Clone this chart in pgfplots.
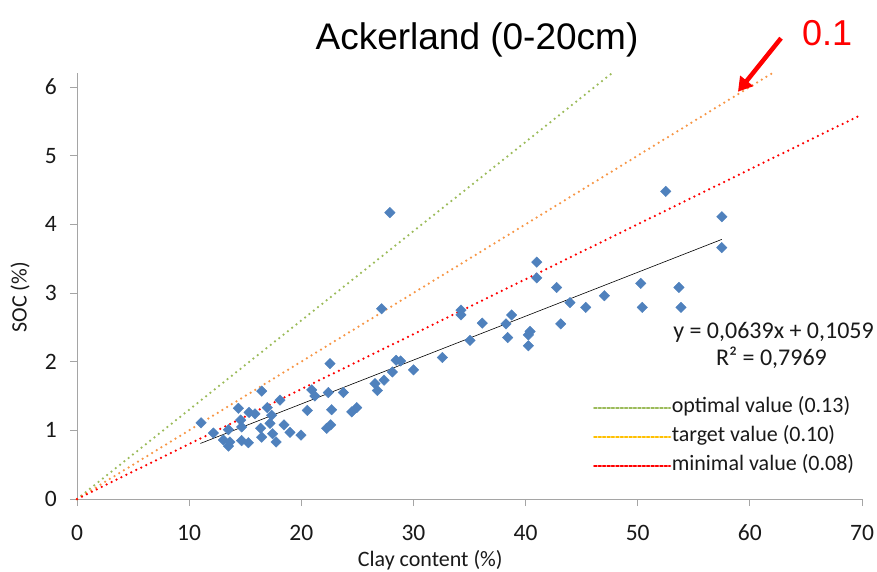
\documentclass[border=0pt]{standalone}
\usepackage{pgfplots}
\pgfplotsset{compat=1.18}
\usepackage{fontspec}
\setmainfont{Carlito}
\newfontfamily\arial{Liberation Sans}
\usetikzlibrary{arrows.meta}
\definecolor{ptblue}{RGB}{79,129,189}
\definecolor{optgreen}{RGB}{155,187,89}
\definecolor{tgtorange}{RGB}{247,150,70}
\definecolor{legorange}{RGB}{255,192,0}
\definecolor{axgray}{RGB}{165,165,165}
\definecolor{txt}{RGB}{25,25,25}
\tikzset{dotline/.style={line width=2.5pt, line cap=round, dash pattern=on 0pt off 5.5pt},
  legdot/.style={line width=2.2pt, dash pattern=on 2.4pt off 2pt}}

\begin{document}
\begin{tikzpicture}[x=1pt,y=1pt]
\begin{axis}[
  at={(0,0)}, anchor=south west,
  scale only axis, width=785pt, height=425.8pt,
  xmin=0, xmax=70, ymin=0, ymax=6.2,
  xtick={0,10,...,70}, ytick={0,1,...,6},
  axis lines=left, axis line style={draw=axgray, line width=0.8pt, -},
  tick style={draw=axgray, line width=0.8pt},
  tick align=outside, major tick length=7pt,
  /pgf/number format/assume math mode=true,
  ticklabel style={font=\fontsize{23.5}{26}\selectfont, text=txt, inner sep=0pt},
  xticklabel style={anchor=center, text height=15pt, text depth=0pt, yshift=-27pt},
  yticklabel style={anchor=east, xshift=-13pt},
  xlabel={Clay content (\%)},
  ylabel={SOC (\%)},
  label style={font=\fontsize{22}{24}\selectfont, text=txt},
  xlabel style={at={(axis description cs:0.45,0)}, anchor=center, yshift=-61pt},
  ylabel style={at={(axis description cs:-0.0726,0.474)}, anchor=center},
  clip=false,
  legend style={at={(axis cs:46.0,1.47)}, anchor=north west, draw=none, fill=none,
    inner sep=0pt, font=\fontsize{22}{24}\selectfont, text=txt,
    row sep=10pt, nodes={inner sep=0.5pt, text height=14pt, text depth=4pt}},
  legend cell align=left,
]
% reference lines
\addplot[optgreen, dotline,
  legend image code/.code={\draw[optgreen, legdot] (0,0) -- (76pt,0);}]
  coordinates {(0,0) (47.7,6.2)};
\addlegendentry{optimal value (0.13)}
\addplot[tgtorange, dotline,
  legend image code/.code={\draw[legorange, legdot] (0,0) -- (76pt,0);}]
  coordinates {(0,0) (62,6.2)};
\addlegendentry{target value (0.10)}
\addplot[red, dotline,
  legend image code/.code={\draw[red, legdot] (0,0) -- (76pt,0);}]
  coordinates {(0,0) (70,5.6)};
\addlegendentry{minimal value (0.08)}
% measured points
\addplot[only marks, mark=square*, mark size=3.7pt, color=ptblue,
  mark options={rotate=45, draw=ptblue, fill=ptblue}, forget plot]
  coordinates {
  (11.06,1.11) (12.16,0.96) (13.50,1.01) (13.05,0.86) (13.50,0.77)
  (13.64,0.83) (14.39,1.32) (14.60,1.15) (14.68,1.05) (14.68,0.85)
  (15.28,0.82) (15.34,1.26) (15.87,1.24) (16.47,1.57) (16.97,1.33)
  (17.36,1.22) (17.21,1.10) (16.38,1.03) (16.47,0.90) (17.45,0.95)
  (17.75,0.83) (18.46,1.08) (18.99,0.97) (18.10,1.44) (19.97,0.93)
  (20.54,1.29) (20.93,1.59) (21.22,1.50) (22.41,1.55) (22.56,1.97)
  (23.75,1.55) (22.70,1.30) (24.50,1.27) (24.94,1.33) (22.27,1.03)
  (22.62,1.08) (26.57,1.68) (26.78,1.58) (27.38,1.73) (28.12,1.85)
  (28.45,2.02) (28.86,2.01) (30.00,1.88) (32.58,2.06) (27.17,2.77)
  (27.90,4.17) (34.24,2.75) (34.24,2.68) (35.05,2.31) (36.14,2.56)
  (38.25,2.55) (38.40,2.35) (38.76,2.68) (40.40,2.44) (40.25,2.39)
  (40.25,2.23) (41.00,3.45) (41.00,3.22) (42.77,3.08) (43.13,2.55)
  (43.96,2.86) (45.36,2.79) (47.03,2.96) (50.27,3.14) (50.41,2.79)
  (52.50,4.48) (53.68,3.08) (53.86,2.79) (57.50,4.11) (57.50,3.66)
  };
% linear trend
\addplot[black, line width=0.6pt, forget plot] coordinates {(11,0.8088) (57.5,3.7802)};
\node[font=\fontsize{24}{26}\selectfont, text=txt] at (axis cs:62.11,2.425) {y = 0,0639x + 0,1059};
\node[font=\fontsize{24}{26}\selectfont, text=txt] at (axis cs:61.93,2.06) {R² = 0,7969};
\node[font=\arial\fontsize{37}{40}\selectfont, text=black] at (axis cs:35.67,6.68) {Ackerland (0-20cm)};
\node[font=\arial\fontsize{36}{38}\selectfont, text=red] at (axis cs:66.9,6.79) {0.1};
\draw[red, line width=4.5pt, -{Triangle[length=14pt, width=16pt]}]
  (axis cs:62.78,6.71) -- (axis cs:58.94,5.93);
\end{axis}
\pgfresetboundingbox
\useasboundingbox (-77pt,-72pt) rectangle (800pt,499pt);
\end{tikzpicture}
\end{document}
